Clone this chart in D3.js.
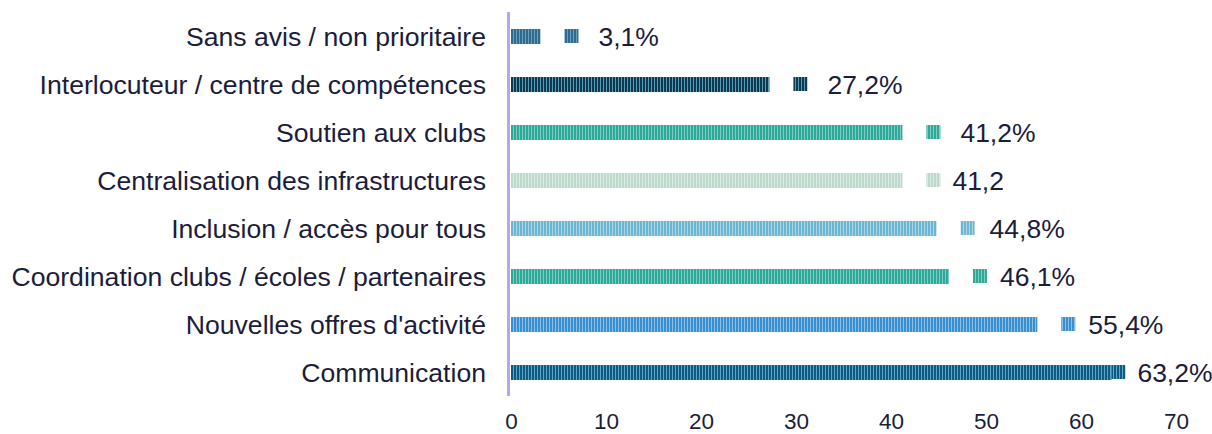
<!DOCTYPE html>
<html><head><meta charset="utf-8">
<script src="https://cdn.jsdelivr.net/npm/d3@7"></script>
<style>body{margin:0;background:#fff}svg{display:block}</style>
</head><body>
<svg id="c" width="1212" height="434"></svg>
<script>
const categories = ["Sans avis / non prioritaire","Interlocuteur / centre de compétences","Soutien aux clubs","Centralisation des infrastructures","Inclusion / accès pour tous","Coordination clubs / écoles / partenaires","Nouvelles offres d'activité","Communication"];
const values = [3.1, 27.2, 41.2, 41.2, 44.8, 46.1, 55.4, 63.2];
const valueLabels = ["3,1%","27,2%","41,2%","41,2","44,8%","46,1%","55,4%","63,2%"];
const ticks = [0,10,20,30,40,50,60,70];

const darkColors  = ["#2f6a8f","#0c3a52","#2fa898","#bcd9cc","#6db5d0","#2fa898","#3a8fd0","#0f5b80"];
const lightColors = ["#6d9dbf","#5a9bb8","#7ccdc2","#dcebe4","#aad6e6","#7ccdc2","#8cc0e8","#5aa5cb"];
const markerGap = [24,24,24,24,24,24,24,0];
const labelGap  = [20,20,20,12,15,13,13,12];

const svg = d3.select("#c");
const x = d3.scaleLinear().domain([0,70]).range([511,1176]);
const y = d3.scaleBand().domain(categories).range([12.5,396.5]).paddingInner(0.6875).paddingOuter(0.34375);
const textColor = "#1c1c3c";
const font = "'Liberation Sans', Arial, sans-serif";

const defs = svg.append("defs");
categories.forEach((c,i)=>{
  const p = defs.append("pattern").attr("id","p"+i).attr("patternUnits","userSpaceOnUse")
    .attr("width",3).attr("height",20).attr("x",511);
  p.append("rect").attr("width",3).attr("height",20).attr("fill",lightColors[i]);
  p.append("rect").attr("width",2).attr("height",20).attr("fill",darkColors[i]);
});

const g = svg.append("g");
const rows = g.selectAll("g.row").data(categories).join("g").attr("class","row");
rows.append("rect")
  .attr("x", x(0)).attr("y", d=>y(d))
  .attr("width", (d,i)=>x(values[i])-x(0)).attr("height", y.bandwidth())
  .attr("fill",(d,i)=>`url(#p${i})`);
rows.append("rect")
  .attr("x",(d,i)=>x(values[i])+markerGap[i]).attr("y", d=>y(d) + (y.bandwidth()-14)/2 - 0.5)
  .attr("width",14).attr("height",14)
  .attr("fill",(d,i)=>`url(#p${i})`);
rows.append("text")
  .attr("x",(d,i)=>x(values[i])+markerGap[i]+14+labelGap[i])
  .attr("y", d=>y(d)+y.bandwidth()/2).attr("dy","0.36em")
  .attr("font-family",font).attr("font-size",26.5).attr("fill",textColor)
  .text((d,i)=>valueLabels[i]);

// category axis labels
g.selectAll("text.cat").data(categories).join("text").attr("class","cat")
  .attr("x",486).attr("y",d=>y(d)+y.bandwidth()/2).attr("dy","0.36em")
  .attr("text-anchor","end").attr("font-family",font).attr("font-size",26.6).attr("fill",textColor)
  .text(d=>d);

// vertical axis line
svg.append("line").attr("x1",508.5).attr("x2",508.5).attr("y1",12).attr("y2",396)
  .attr("stroke","#b1abe3").attr("stroke-width",3);

// x axis tick labels
const xAxis = d3.axisBottom(x).tickValues(ticks).tickSize(0).tickPadding(0).tickFormat(d3.format("d"));
const ax = svg.append("g").attr("transform","translate(0,429)").call(xAxis);
ax.select(".domain").remove();
ax.selectAll("text").attr("font-family",font).attr("font-size",22.5).attr("fill",textColor).attr("y",0).attr("dy","0");
</script>
</body></html>
